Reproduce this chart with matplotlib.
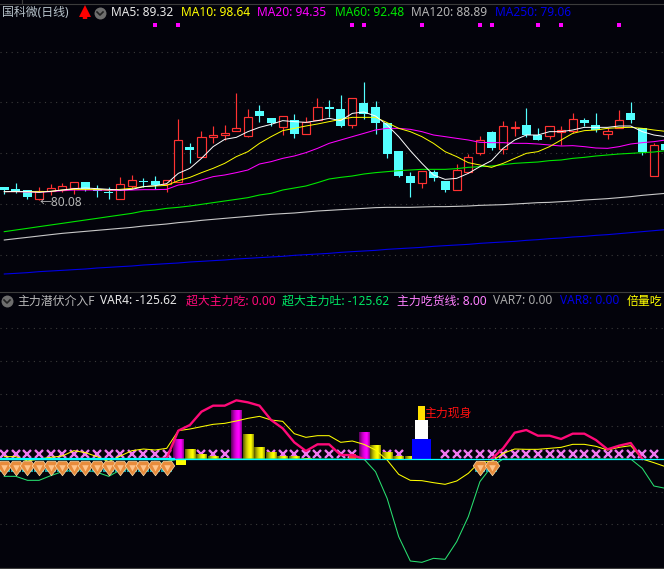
import numpy as np
import matplotlib
matplotlib.use('Agg')
import matplotlib.pyplot as plt
from matplotlib.path import Path
from matplotlib.lines import Line2D

plt.rcParams['font.family'] = ['Noto Sans', 'Noto Sans CJK SC', 'DejaVu Sans']

W, H = 664, 569
BG = '#03030b'
XLIM = (-0.37, 56.87)

# candles
opens = [82.60, 82.13, 82.00, 80.27, 81.73, 82.00, 82.47, 83.60, 82.27, 81.67, 80.27, 82.87, 83.80, 83.73, 83.13,
         83.60, 90.60, 88.67, 92.53, 92.93, 93.87, 92.87, 97.80, 96.40, 94.67, 95.93, 93.27, 96.07, 98.60, 98.20,
         95.07, 99.40, 98.60, 95.40, 89.80, 84.80, 83.47, 85.60, 83.80, 82.07, 85.67, 89.47, 93.60, 90.27, 94.33,
         95.00, 93.00, 92.87, 93.60, 93.87, 96.00, 95.00, 93.27, 94.40, 97.40, 94.40, 84.87, 91.20]
closes = [82.00, 81.87, 80.67, 81.73, 82.33, 82.73, 83.53, 82.27, 81.73, 81.33, 83.13, 83.93, 83.67, 83.00, 83.93,
          91.93, 90.07, 92.53, 92.93, 93.33, 94.33, 96.53, 96.80, 95.47, 96.73, 93.20, 95.53, 98.53, 98.20, 94.80,
          100.33, 97.20, 95.40, 89.20, 84.80, 83.40, 85.73, 84.40, 82.00, 86.00, 88.53, 92.00, 90.40, 94.73, 94.60,
          93.00, 92.00, 94.73, 93.93, 96.13, 95.40, 94.00, 93.73, 95.93, 96.00, 89.53, 90.93, 90.00]
highs = [82.60, 83.47, 82.00, 82.53, 83.20, 83.40, 83.53, 83.60, 82.93, 82.60, 84.53, 85.00, 84.40, 84.80, 83.93,
         96.20, 91.33, 93.80, 94.80, 94.93, 101.40, 98.20, 99.00, 96.40, 96.73, 97.13, 96.60, 100.40, 100.00, 101.00,
         100.33, 103.60, 99.80, 95.40, 89.80, 85.60, 85.73, 86.00, 83.80, 87.20, 89.20, 92.80, 93.80, 95.80, 95.80,
         98.40, 94.40, 94.73, 94.73, 97.40, 96.40, 97.40, 94.40, 98.00, 99.60, 94.40, 91.33, 91.20]
lows = [81.13, 81.47, 80.27, 80.08, 81.00, 81.67, 81.20, 81.87, 80.67, 80.13, 80.27, 82.33, 82.67, 82.13, 81.67,
        83.60, 87.47, 88.67, 91.47, 92.00, 93.87, 92.67, 95.67, 94.87, 93.00, 92.47, 93.27, 96.07, 96.67, 94.60,
        94.40, 96.27, 93.20, 88.47, 84.60, 80.60, 82.40, 83.80, 81.60, 82.07, 85.40, 89.00, 90.00, 89.20, 92.80,
        92.60, 92.00, 92.20, 91.00, 93.40, 94.80, 93.60, 92.20, 94.40, 95.40, 89.00, 84.87, 90.00]

ma5 = [81.67, 81.73, 81.67, 81.53, 81.73, 82.00, 82.27, 82.40, 82.27, 82.13, 82.00, 82.13, 82.67, 82.87, 83.27,
       85.33, 86.33, 88.33, 90.67, 92.13, 92.53, 93.67, 94.53, 95.13, 95.87, 95.67, 95.53, 95.87, 96.33, 95.87,
       97.33, 97.60, 96.80, 95.00, 92.67, 89.87, 87.33, 85.00, 84.13, 84.33, 85.33, 86.67, 87.87, 90.33, 92.00,
       93.00, 93.00, 93.67, 93.67, 94.00, 94.53, 94.53, 94.53, 94.80, 94.80, 93.67, 93.00, 92.67]
ma10 = [81.67, 81.67, 81.67, 81.67, 81.73, 82.00, 82.13, 82.13, 82.13, 82.00, 82.13, 82.33, 82.67, 82.80, 82.93,
        83.87, 84.53, 85.47, 86.33, 87.33, 88.67, 89.67, 91.33, 92.67, 93.87, 94.33, 94.80, 95.20, 95.67, 96.13,
        96.53, 96.53, 96.53, 95.47, 94.33, 93.67, 92.67, 91.33, 89.67, 88.67, 87.47, 87.00, 86.53, 87.33, 88.33,
        89.33, 89.67, 90.67, 92.00, 93.33, 93.87, 94.00, 94.33, 94.47, 94.53, 94.33, 94.00, 93.73]
ma20 = [81.67, 81.67, 81.60, 81.60, 81.67, 81.87, 82.00, 82.00, 82.00, 81.93, 81.93, 82.00, 82.07, 82.07, 82.13,
        83.00, 83.33, 84.00, 84.67, 85.00, 85.47, 86.00, 87.20, 87.67, 88.33, 88.80, 89.47, 90.33, 91.33, 92.00,
        92.67, 93.33, 94.00, 94.33, 94.33, 94.13, 93.67, 93.00, 92.67, 92.33, 92.00, 91.53, 91.47, 91.47, 91.33,
        91.33, 91.20, 91.00, 90.80, 90.87, 90.67, 90.40, 90.33, 90.67, 91.20, 91.47, 91.67, 92.00]
ma60 = [73.67, 74.00, 74.33, 74.67, 75.00, 75.33, 75.67, 76.00, 76.33, 76.67, 77.00, 77.33, 77.80, 78.00, 78.33,
        78.53, 78.80, 79.13, 79.47, 79.80, 80.13, 80.47, 81.00, 81.33, 82.00, 82.40, 82.80, 83.47, 84.20, 84.53,
        84.80, 85.20, 85.47, 85.67, 85.87, 86.00, 86.13, 86.13, 86.13, 86.27, 86.53, 86.67, 86.80, 87.07, 87.33,
        87.47, 87.60, 87.87, 88.00, 88.33, 88.53, 88.80, 89.00, 89.20, 89.33, 89.47, 89.60, 89.87]
ma120 = [72.00, 72.27, 72.53, 72.80, 73.07, 73.33, 73.53, 73.73, 73.93, 74.13, 74.33, 74.53, 74.80, 75.00, 75.20,
         75.47, 75.67, 75.93, 76.13, 76.33, 76.53, 76.73, 76.93, 77.13, 77.27, 77.40, 77.60, 77.80, 77.93, 78.07,
         78.20, 78.33, 78.47, 78.53, 78.53, 78.53, 78.60, 78.67, 78.67, 78.73, 78.80, 78.93, 79.00, 79.07, 79.20,
         79.33, 79.47, 79.53, 79.67, 79.80, 80.00, 80.13, 80.27, 80.47, 80.67, 80.93, 81.13, 81.33]
ma250 = [65.20, 65.33, 65.47, 65.67, 65.80, 65.93, 66.07, 66.20, 66.40, 66.53, 66.67, 66.80, 67.00, 67.13, 67.27,
         67.40, 67.60, 67.73, 67.87, 68.00, 68.20, 68.33, 68.47, 68.60, 68.73, 68.93, 69.07, 69.20, 69.33, 69.53,
         69.67, 69.80, 69.93, 70.13, 70.27, 70.40, 70.53, 70.73, 70.87, 71.00, 71.13, 71.33, 71.47, 71.60, 71.73,
         71.93, 72.07, 72.27, 72.40, 72.60, 72.73, 72.93, 73.07, 73.27, 73.47, 73.67, 73.87, 74.07]
signal_bars = [13, 15, 30, 31, 36, 41, 42, 46, 48, 53]

# lower indicator
pink_line = [0] * 14 + [0.82, 34.69, 41.63, 57.96, 65.31, 65.31, 71.84, 69.39, 65.31, 47.76, 37.55, 20.41, 9.80,
                        17.96, 17.96, 4.90, 4.90] + [0] * 12 + [13.06, 32.24, 35.51, 28.57, 28.57, 24.49, 31.02,
                                                               31.02, 23.27, 11.84, 16.33, 19.59, 0, 0, 0]
yellow_line = [2.86, 2.86, -2.45, 0, 2.04, 3.67, 10.20, 7.76, 2.86, -3.27, 3.67, 10.20, 12.24, 11.02, 13.06,
               34.69, 36.73, 39.59, 42.45, 43.67, 46.53, 49.80, 52.24, 47.76, 46.12, 31.02, 26.53, 28.57, 28.57, 20.41,
               22.04, 17.96, 11.02, -1.22, -18.78, -26.12, -26.53, -28.98, -31.02, -26.94, -17.55, -3.27, -3.27, 6.94,
               12.24, 11.84, 11.84, 13.06, 14.29, 17.96, 17.96, 15.51, 11.02, 14.29, 16.33, 0, -4.49, -9.39]
green_line = [-21.22, -21.22, -26.12, -26.12, -20.41, -15.51, -13.47, -13.47, -16.33, -21.22, -13.47, -11.43, -9.39,
              -7.35, -3.27] + [0] * 17 + [-15.51, -48.16, -95.10, -124.90, -126.53, -121.63, -122.86, -101.22,
                                          -70.61, -27.76, -9.39] + [0] * 12 + [-11.43, -33.06, -35.92]
cross_bars = list(range(15)) + [17, 18, 19, 23, 24, 25, 26, 27, 28, 29, 30, 33, 34] + list(range(38, 57))
diamond_bars = list(range(15)) + [41, 42]
magenta_bars = {15: 24.49, 20: 58.78, 31: 33.06}
yellow_bars = {16: 12.24, 17: 6.12, 18: 3.67, 19: 0.82, 21: 29.39, 22: 14.69, 23: 7.76, 24: 3.67, 25: 2.45, 26: 0.82,
               32: 15.92, 33: 8.57, 34: 3.67, 35: 2.45, 36: 0.82}


def place_axes(fig, top, bottom):
    ax = fig.add_axes([0, 1 - bottom / H, 1, (bottom - top) / H])
    ax.set_facecolor(BG)
    ax.set_xlim(*XLIM)
    ax.set_xticks([])
    for side in ['left', 'right', 'bottom']:
        ax.spines[side].set_visible(False)
    ax.spines['top'].set_color('#3c3c3c')
    ax.tick_params(left=False, labelleft=False)
    ax.grid(axis='y', color='#3a3a3a', linestyle=(0, (1, 4)), linewidth=0.8)
    ax.set_axisbelow(True)
    return ax


def gradient_bar(ax, x, height, rgb, width=0.9):
    # darker at the edges, bright in the middle
    t = np.linspace(0, 1, 32)
    shade = 0.35 + 0.65 * np.sin(np.clip(t * 1.35, 0, 1) * np.pi / 2)
    shade = shade * (1 - 0.45 * np.clip((t - 0.75) / 0.25, 0, 1))
    img = np.outer(shade, rgb)[None, :, :]
    ax.imshow(img, extent=[x - width / 2, x + width / 2, 0, height], aspect='auto', zorder=3, interpolation='bilinear')


def legend_row(fig, y, items):
    for x, label, color in items:
        fig.text(x / W, 1 - y / H, label, color=color, fontsize=8.6, va='center', ha='left')


def round_button(fig, x, y):
    fig.add_artist(Line2D([x / W], [1 - y / H], marker='o', markersize=8.6, color='#6e6e6e', markeredgewidth=0))
    fig.add_artist(Line2D([(x - 3) / W, x / W, (x + 3) / W], [1 - (y - 1) / H, 1 - (y + 2) / H, 1 - (y - 1) / H],
                          color='#222222', linewidth=1.2))


fig = plt.figure(figsize=(W / 100, H / 100), dpi=100, facecolor=BG)

# price panel
ax1 = place_axes(fig, 4, 285)
ax1.set_ylim(63, 119.2)
ax1.set_yticks([109.53, 99.53, 89.33, 79.13, 69.0])

x = np.arange(len(opens))
opens = np.array(opens)
closes = np.array(closes)
up = closes >= opens
candle_colors = np.where(up, '#ff3232', '#54ffff')
ax1.vlines(x, lows, highs, colors=candle_colors, linewidth=0.85, zorder=2)
ax1.bar(x[up], (closes - opens)[up], bottom=opens[up], width=0.72, facecolor=BG, edgecolor='#ff3232',
        linewidth=0.85, zorder=3)
ax1.bar(x[~up], (opens - closes)[~up], bottom=closes[~up], width=0.78, color='#54ffff', zorder=3)

ax1.plot(x, ma250, color='#0000e6', linewidth=0.8, zorder=4)
ax1.plot(x, ma120, color='#c8c8c8', linewidth=0.8, zorder=4)
ax1.plot(x, ma60, color='#00e600', linewidth=0.8, zorder=4)
ax1.plot(x, ma20, color='#ff00ff', linewidth=0.75, zorder=4)
ax1.plot(x, ma10, color='#ffff00', linewidth=0.7, zorder=5)
ax1.plot(x, ma5, color='#ffffff', linewidth=0.7, zorder=6)
ax1.plot(signal_bars, [114.93] * len(signal_bars), linestyle='none', marker='s', markersize=2.6, color='#ff00ff',
         markeredgewidth=0)
ax1.text(3.0, 79.4, '←80.08', color='#b4b4b4', fontsize=8.6, va='center', ha='left')

# indicator panel
ax2 = place_axes(fig, 292, 568)
ax2.set_ylim(-133.47, 204.5)
ax2.set_yticks([160, 120, 80, 40, -40, -80])
ax2.spines['bottom'].set_visible(True)
ax2.spines['bottom'].set_color('#3c3c3c')

ax2.plot(cross_bars, [5.7] * len(cross_bars), linestyle='none', marker='x', markersize=5.8, markeredgewidth=1.7,
         color='#f078f0', zorder=2)
for bar, value in magenta_bars.items():
    gradient_bar(ax2, bar, value, (1.0, 0.0, 1.0))
for bar, value in yellow_bars.items():
    gradient_bar(ax2, bar, value, (1.0, 1.0, 0.0))
ax2.set_xlim(*XLIM)
ax2.set_ylim(-133.47, 204.5)

ax2.bar([15.25], [-7.35], width=0.86, color='#ffff00', zorder=3)
ax2.bar([30], [6.12], width=0.6, color='#ff3030', zorder=3)
ax2.bar([36], [24.49], width=1.64, color='#0000ff', zorder=3)
ax2.bar([36], [23.27], bottom=[24.49], width=1.12, color='#ffffff', zorder=3)
ax2.bar([36], [17.14], bottom=[47.76], width=0.6, color='#ffe000', zorder=3)
ax2.text(36.2, 56.7, '主力现身', color='#ff1010', fontsize=8.6, va='center', ha='left', zorder=8)

# flat stretches of the pink line sit under the zero line, so leave them out
pink = np.array(pink_line, dtype=float)
flat = (pink == 0) & (np.roll(pink, 1) == 0) & (np.roll(pink, -1) == 0)
pink[flat] = np.nan

ax2.plot(x, green_line, color='#28e070', linewidth=0.75, zorder=4)
ax2.plot(x, yellow_line, color='#ffff00', linewidth=0.75, zorder=5)
ax2.plot(x, pink, color='#ff0a78', linewidth=1.7, zorder=6)
ax2.axhline(0, color='#00ffff', linewidth=0.9, zorder=7)
ax2.plot([-0.37, 14.6], [0, 0], color='#00ffff', linewidth=1.6, zorder=7)

# diamonds with the cyan foot under them
diamond = Path([(-1, 0.35), (-0.55, 1), (0.55, 1), (1, 0.35), (0, -1), (-1, 0.35)])
facet = Path([(-0.5, 0.35), (0.5, 0.35), (0, -0.6), (-0.5, 0.35)])
ax2.bar(diamond_bars, [-4.1] * len(diamond_bars), bottom=[-12.24] * len(diamond_bars), width=0.9, color='#12a0a8',
        zorder=8)
ax2.plot(diamond_bars, [-10.6] * len(diamond_bars), linestyle='none', marker=diamond, markersize=10.5,
         markerfacecolor='#e88c3c', markeredgecolor='#f8d8a8', markeredgewidth=0.5, zorder=9)
ax2.plot(diamond_bars, [-10.0] * len(diamond_bars), linestyle='none', marker=facet, markersize=5.6,
         markerfacecolor='#ffc48a', markeredgewidth=0, zorder=10)

# header rows
legend_row(fig, 13, [(2, '国科微(日线)', '#b8c4cc'), (111, 'MA5: 89.32', '#e8e8e8'), (181, 'MA10: 98.64', '#ffff00'),
                     (257, 'MA20: 94.35', '#ff00ff'), (335, 'MA60: 92.48', '#00e600'),
                     (411, 'MA120: 88.89', '#b4b4b4'), (495, 'MA250: 79.06', '#0000e6')])
legend_row(fig, 301, [(17, '主力潜伏介入F', '#b8b8b8'), (100, 'VAR4: -125.62', '#e8e8e8'),
                      (186, '超大主力吃: 0.00', '#ff0a78'), (282, '超大主力吐: -125.62', '#00e664'),
                      (397, '主力吃货线: 8.00', '#ff80ff'), (493, 'VAR7: 0.00', '#a8a8a8'),
                      (560, 'VAR8: 0.00', '#0000e6'), (627, '倍量吃', '#ffff00')])
round_button(fig, 100, 13)
round_button(fig, 7, 301)
fig.add_artist(Line2D([84.5 / W, 84.5 / W], [1 - 13 / H, 1 - 19 / H], color='#ff0000', linewidth=3.2,
                      solid_capstyle='butt'))
fig.add_artist(Line2D([84.5 / W], [1 - 11 / H], marker='^', markersize=8.5, color='#ff0000', markeredgewidth=0))
fig.add_artist(Line2D([22 / W, 22 / W], [1, 1 - 4 / H], color='#3c3c3c', linewidth=0.8))

fig.savefig('out.png', dpi=100, facecolor=BG)
